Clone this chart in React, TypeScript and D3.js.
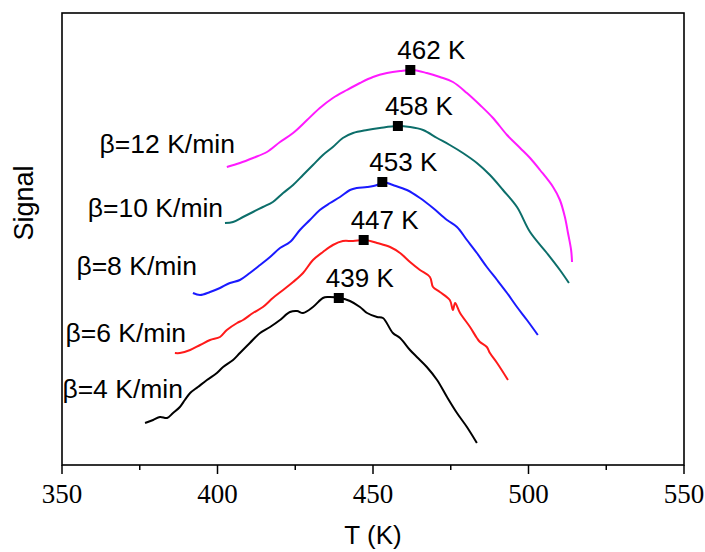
import React from "react";
import * as d3 from "d3";

const W = 705;
const H = 552;

const xTicksMajor = [350, 400, 450, 500, 550];
const xTicksMinor = [375, 425, 475, 525];

const rates = ["β=4 K/min", "β=6 K/min", "β=8 K/min", "β=10 K/min", "β=12 K/min"];
const colors = ["#000000", "#ff1a1a", "#1a1aff", "#0c6e6a", "#ff1aff"];

const peakT = [439, 447, 453, 458, 462];
const peakS = [1.67, 2.25, 2.83, 3.39, 3.95];
const peakLabels = ["439 K", "447 K", "453 K", "458 K", "462 K"];

const rateLabelT = [388.9, 389.9, 393.4, 401.8, 405.6];
const rateLabelS = [0.67, 1.23, 1.9, 2.48, 3.12];

const t4 = [376.7, 379.3, 381.5, 383.8, 385.7, 387.9, 389.5, 391.2, 393.7, 396.6, 399.8, 401.8, 405.0, 407.2, 410.4, 413.7, 416.9, 420.1, 423.3, 425.6, 427.5, 430.7, 433.9, 435.5, 439.4, 442.6, 445.8, 448.1, 451.3, 453.2, 456.4, 458.7, 461.9, 464.1, 467.3, 470.6, 473.8, 477.0, 480.2, 483.4];
const s4 = [0.42, 0.45, 0.48, 0.47, 0.52, 0.58, 0.65, 0.72, 0.78, 0.85, 0.92, 0.98, 1.05, 1.12, 1.22, 1.32, 1.38, 1.45, 1.53, 1.54, 1.52, 1.58, 1.67, 1.68, 1.67, 1.64, 1.58, 1.52, 1.48, 1.47, 1.32, 1.27, 1.15, 1.08, 0.98, 0.85, 0.68, 0.52, 0.38, 0.22];

const t6 = [386.3, 387.9, 391.2, 394.4, 397.6, 400.8, 403.0, 406.3, 408.2, 411.4, 414.6, 417.8, 421.1, 424.3, 427.5, 430.7, 433.9, 437.1, 440.3, 443.6, 447.4, 451.3, 455.5, 458.7, 461.9, 465.1, 468.3, 469.3, 471.5, 474.7, 475.7, 476.4, 478.0, 481.2, 483.4, 484.4, 486.6, 487.6, 489.9, 493.4];
const s6 = [1.12, 1.12, 1.15, 1.2, 1.25, 1.28, 1.35, 1.42, 1.45, 1.52, 1.58, 1.67, 1.75, 1.83, 1.92, 2.05, 2.13, 2.2, 2.24, 2.24, 2.25, 2.22, 2.18, 2.12, 2.03, 1.95, 1.88, 1.78, 1.73, 1.65, 1.55, 1.62, 1.52, 1.38, 1.27, 1.23, 1.18, 1.12, 1.02, 0.85];

const t8 = [392.1, 394.4, 397.6, 400.8, 404.0, 407.2, 410.4, 413.7, 416.9, 420.1, 423.3, 426.5, 429.7, 432.9, 436.2, 439.4, 442.6, 444.8, 448.1, 451.3, 453.2, 456.4, 460.9, 465.1, 469.3, 473.8, 477.0, 480.2, 483.4, 486.6, 489.9, 493.1, 496.3, 499.5, 503.0];
const s8 = [1.72, 1.7, 1.73, 1.77, 1.82, 1.85, 1.92, 2.0, 2.08, 2.17, 2.23, 2.35, 2.45, 2.55, 2.62, 2.68, 2.75, 2.77, 2.78, 2.8, 2.83, 2.8, 2.75, 2.67, 2.57, 2.45, 2.38, 2.25, 2.12, 1.98, 1.85, 1.72, 1.58, 1.45, 1.3];

const t10 = [402.4, 405.0, 408.2, 411.4, 414.6, 417.8, 421.1, 424.3, 427.5, 430.7, 433.9, 437.1, 440.3, 443.6, 448.1, 452.2, 457.7, 461.9, 466.1, 470.6, 474.7, 478.9, 483.4, 487.6, 491.8, 496.3, 500.5, 505.9, 510.1, 513.0];
const s10 = [2.42, 2.43, 2.48, 2.53, 2.58, 2.63, 2.72, 2.8, 2.9, 3.0, 3.1, 3.18, 3.27, 3.32, 3.35, 3.37, 3.39, 3.38, 3.35, 3.27, 3.2, 3.12, 3.02, 2.9, 2.75, 2.58, 2.33, 2.12, 1.95, 1.82];

const t12 = [403.0, 407.2, 411.4, 415.9, 420.1, 424.3, 428.8, 432.9, 437.1, 441.6, 445.8, 450.0, 454.5, 458.7, 462.8, 467.3, 471.5, 475.7, 480.2, 484.4, 488.6, 493.1, 497.3, 500.5, 503.7, 507.9, 510.1, 511.7, 512.7, 513.7, 514.0];
const s12 = [2.98, 3.02, 3.07, 3.13, 3.23, 3.32, 3.45, 3.57, 3.67, 3.75, 3.82, 3.88, 3.92, 3.94, 3.95, 3.92, 3.88, 3.83, 3.72, 3.6, 3.47, 3.3, 3.17, 3.07, 2.95, 2.78, 2.65, 2.48, 2.32, 2.15, 2.03];

const seriesT = [t4, t6, t8, t10, t12];
const seriesS = [s4, s6, s8, s10, s12];

const M = { left: 62, right: 684, top: 13, bottom: 465 };

export default function App() {
  const x = d3.scaleLinear().domain([350, 550]).range([M.left, M.right]);
  const y = d3.scaleLinear().domain([0, 4.52]).range([M.bottom, M.top]);
  const line = d3
    .line<[number, number]>()
    .x((d) => x(d[0]))
    .y((d) => y(d[1]))
    .curve(d3.curveCatmullRom.alpha(0.5));

  const sans = "'Liberation Sans', Arial, sans-serif";
  const serif = "'Liberation Serif', 'Times New Roman', serif";

  return (
    <svg
      width={W}
      height={H}
      style={{ position: "absolute", left: 0, top: 0, background: "#fff" }}
    >
      <rect x={0} y={0} width={W} height={H} fill="#fff" />
      <rect
        x={M.left}
        y={M.top}
        width={M.right - M.left}
        height={M.bottom - M.top}
        fill="none"
        stroke="#000"
        strokeWidth={1.6}
      />
      {xTicksMajor.map((t) => (
        <g key={"M" + t}>
          <line x1={x(t)} x2={x(t)} y1={M.bottom} y2={M.bottom + 9} stroke="#000" strokeWidth={1.5} />
          <text
            x={x(t)}
            y={M.bottom + 38}
            textAnchor="middle"
            fontFamily={serif}
            fontSize={27}
            fill="#000"
          >
            {t}
          </text>
        </g>
      ))}
      {xTicksMinor.map((t) => (
        <line key={"m" + t} x1={x(t)} x2={x(t)} y1={M.bottom} y2={M.bottom + 5} stroke="#000" strokeWidth={1.5} />
      ))}
      <text x={(M.left + M.right) / 2} y={544} textAnchor="middle" fontFamily={sans} fontSize={26} fill="#000">
        T (K)
      </text>
      <text
        transform={`translate(33,${203}) rotate(-90)`}
        textAnchor="middle"
        fontFamily={sans}
        fontSize={27}
        fill="#000"
      >
        Signal
      </text>
      {seriesT.map((ts, i) => (
        <path
          key={"c" + i}
          d={line(ts.map((t, j) => [t, seriesS[i][j]] as [number, number])) || ""}
          fill="none"
          stroke={colors[i]}
          strokeWidth={2}
          strokeLinejoin="round"
        />
      ))}
      {rates.map((r, i) => (
        <text
          key={"r" + i}
          x={x(rateLabelT[i])}
          y={y(rateLabelS[i])}
          textAnchor="end"
          fontFamily={sans}
          fontSize={26.5}
          fill="#000"
        >
          {r}
        </text>
      ))}
      {peakT.map((t, i) => (
        <g key={"p" + i}>
          <rect x={x(t) - 5} y={y(peakS[i]) - 5} width={10} height={10} fill="#000" />
          <text
            x={x(t) - 13}
            y={y(peakS[i]) - 11}
            fontFamily={sans}
            fontSize={26}
            fill="#000"
          >
            {peakLabels[i]}
          </text>
        </g>
      ))}
    </svg>
  );
}
